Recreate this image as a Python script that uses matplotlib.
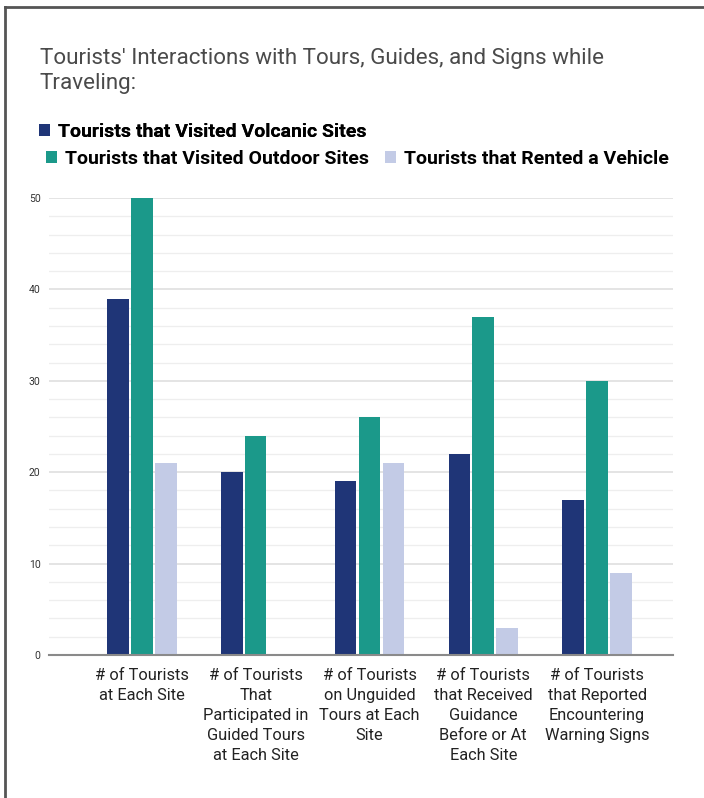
import matplotlib
matplotlib.use("Agg")
import matplotlib.pyplot as plt
from matplotlib.lines import Line2D
import numpy as np

categories = [
    "# of Tourists\nat Each Site",
    "# of Tourists\nThat\nParticipated in\nGuided Tours\nat Each Site",
    "# of Tourists\non Unguided\nTours at Each\nSite",
    "# of Tourists\nthat Received\nGuidance\nBefore or At\nEach Site",
    "# of Tourists\nthat Reported\nEncountering\nWarning Signs",
]
series_names = [
    "Tourists that Visited Volcanic Sites",
    "Tourists that Visited Outdoor Sites",
    "Tourists that Rented a Vehicle",
]
volcanic = [39, 20, 19, 22, 17]
outdoor = [50, 24, 26, 37, 30]
rented = [21, 0, 21, 3, 9]
colors = ["#1f3577", "#1b998a", "#c3cbe6"]
title = "Tourists' Interactions with Tours, Guides, and Signs while\nTraveling:"

plt.rcParams['font.family'] = ['Roboto', 'DejaVu Sans']

fig = plt.figure(figsize=(7.04, 7.98), dpi=100)
ax = fig.add_axes([49/704, 143/798, (673-49)/704, (655-198)/798])

x = np.arange(len(categories))
w = 0.19
off = 0.21
bars = []
for i, (vals, c) in enumerate(zip([volcanic, outdoor, rented], colors)):
    b = ax.bar(x + (i - 1) * off, vals, width=w, color=c, zorder=3, label=series_names[i])
    bars.append(b)

ax.set_ylim(0, 50)
ax.set_xlim(-0.816, 4.667)
ax.set_yticks(np.arange(0, 51, 10))
ax.set_yticks(np.arange(0, 51, 2), minor=True)
ax.grid(axis='y', which='major', color='#dcdcdc', lw=1.1, zorder=0)
ax.grid(axis='y', which='minor', color='#eeeeee', lw=0.9, zorder=0)
ax.tick_params(axis='y', which='both', length=0, labelsize=7.5, pad=6, labelcolor='#333333')
ax.set_xticks(x)
ax.set_xticklabels(categories, fontsize=11.8, linespacing=1.43, color='#222222')
ax.tick_params(axis='x', length=0, pad=9)
for s in ['top', 'right', 'left']:
    ax.spines[s].set_visible(False)
ax.spines['bottom'].set_color('#8a8a8a')
ax.spines['bottom'].set_linewidth(1.5)
ax.spines['bottom'].set_zorder(4)

fig.text(40/704, 1 - 48/798, title, fontsize=16.1, color='#4a4a4a', va='top', ha='left',
         linespacing=1.22)

leg1 = fig.legend(handles=[bars[0]], labels=[series_names[0]], loc='upper left',
                  bbox_to_anchor=(39/704, 1 - 123/798), frameon=False,
                  prop={'size': 14, 'weight': 'bold'}, handlelength=0.55, handleheight=0.55,
                  handletextpad=0.45, borderaxespad=0, borderpad=0)
leg2 = fig.legend(handles=[bars[1], bars[2]], labels=series_names[1:], loc='upper left',
                  bbox_to_anchor=(46/704, 1 - 150/798), frameon=False, ncol=2,
                  prop={'size': 14, 'weight': 'bold'}, handlelength=0.55, handleheight=0.55,
                  handletextpad=0.45, columnspacing=0.8, borderaxespad=0, borderpad=0)
fig.add_artist(leg1)

fig.add_artist(Line2D([5/704, 1], [1 - 7/798, 1 - 7/798], transform=fig.transFigure,
                      color='#555555', lw=2))
fig.add_artist(Line2D([5/704, 5/704], [0, 1 - 7/798], transform=fig.transFigure,
                      color='#555555', lw=2))

fig.savefig("out.png", dpi=100)
